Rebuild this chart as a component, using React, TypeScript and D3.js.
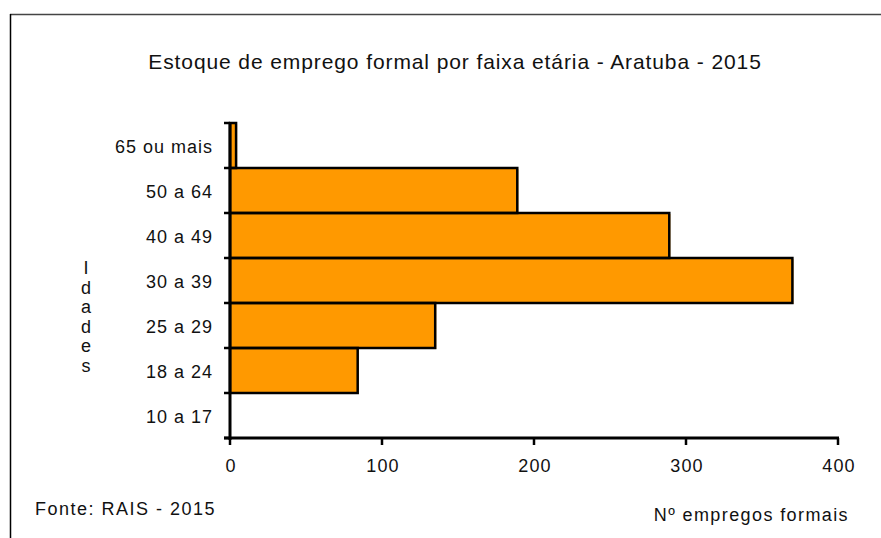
import React, { useEffect, useRef } from 'react';
import * as d3 from 'd3';

// faixa etária (top to bottom)
const ageGroups = ['65 ou mais', '50 a 64', '40 a 49', '30 a 39', '25 a 29', '18 a 24', '10 a 17'];
const employees = [4, 189, 289, 370, 135, 84, 0];
const xTicks = [0, 100, 200, 300, 400];
const yTitle = ['I', 'd', 'a', 'd', 'e', 's'];

const App = () => {
  const svgRef = useRef<SVGSVGElement>(null);

  useEffect(() => {
    const svg = d3.select(svgRef.current);
    svg.selectAll('*').remove();

    const width = 881;
    const height = 538;
    const margin = { top: 123, right: 43, bottom: 100, left: 230 };
    const font = 'Liberation Sans, Arial, sans-serif';

    // frame
    svg.append('line')
      .attr('x1', 10).attr('x2', width).attr('y1', 14.5).attr('y2', 14.5)
      .attr('stroke', '#444').attr('stroke-width', 1.5);
    svg.append('line')
      .attr('x1', 10.5).attr('x2', 10.5).attr('y1', 14).attr('y2', height)
      .attr('stroke', '#000').attr('stroke-width', 1.5);

    const x = d3.scaleLinear()
      .domain([0, 400])
      .range([margin.left, width - margin.right]);

    const y = d3.scaleBand()
      .domain(ageGroups)
      .range([margin.top, height - margin.bottom])
      .padding(0);

    const data = ageGroups.map((g, i) => ({ label: g, value: employees[i] }));

    // bars: orange fill slightly offset, black outline
    svg.append('g')
      .selectAll('rect')
      .data(data.filter(d => d.value > 0))
      .enter()
      .append('rect')
      .attr('x', x(0))
      .attr('y', d => (y(d.label) as number) + 1)
      .attr('width', d => x(d.value) - x(0) + 1)
      .attr('height', y.bandwidth())
      .attr('fill', '#FF9900');

    svg.append('g')
      .selectAll('rect')
      .data(data.filter(d => d.value > 0))
      .enter()
      .append('rect')
      .attr('x', x(0))
      .attr('y', d => y(d.label) as number)
      .attr('width', d => x(d.value) - x(0))
      .attr('height', y.bandwidth())
      .attr('fill', 'none')
      .attr('stroke', '#000')
      .attr('stroke-width', 2.5);

    // y axis
    const yAxis = svg.append('g');
    yAxis.append('line')
      .attr('x1', x(0)).attr('x2', x(0))
      .attr('y1', margin.top).attr('y2', height - margin.bottom + 2)
      .attr('stroke', '#000').attr('stroke-width', 3);
    const bounds = ageGroups.map(g => y(g) as number).concat([height - margin.bottom]);
    yAxis.selectAll('.ytick')
      .data(bounds)
      .enter()
      .append('line')
      .attr('x1', x(0) - 6).attr('x2', x(0))
      .attr('y1', d => d).attr('y2', d => d)
      .attr('stroke', '#000').attr('stroke-width', 2.5);
    yAxis.selectAll('text')
      .data(ageGroups)
      .enter()
      .append('text')
      .attr('x', 213)
      .attr('y', d => (y(d) as number) + y.bandwidth() / 2 + 7)
      .attr('text-anchor', 'end')
      .attr('font-family', font)
      .attr('font-size', 18)
      .attr('letter-spacing', 1)
      .attr('fill', '#111')
      .text(d => d);

    // x axis
    const xAxis = svg.append('g');
    const axisY = height - margin.bottom;
    xAxis.append('line')
      .attr('x1', x(0) - 6).attr('x2', x(400) + 1)
      .attr('y1', axisY).attr('y2', axisY)
      .attr('stroke', '#000').attr('stroke-width', 3);
    xAxis.selectAll('.xtick')
      .data(xTicks)
      .enter()
      .append('line')
      .attr('x1', d => x(d)).attr('x2', d => x(d))
      .attr('y1', axisY).attr('y2', axisY + 7)
      .attr('stroke', '#000').attr('stroke-width', 2.5);
    xAxis.selectAll('text')
      .data(xTicks)
      .enter()
      .append('text')
      .attr('x', d => x(d) + 1)
      .attr('y', axisY + 34)
      .attr('text-anchor', 'middle')
      .attr('font-family', font)
      .attr('font-size', 18)
      .attr('letter-spacing', 1.2)
      .attr('fill', '#111')
      .text(d => d);

    // title
    svg.append('text')
      .attr('x', 455).attr('y', 69)
      .attr('text-anchor', 'middle')
      .attr('font-family', font)
      .attr('font-size', 21)
      .attr('letter-spacing', 0.9)
      .attr('fill', '#111')
      .text('Estoque de emprego formal por faixa etária - Aratuba  - 2015');

    // vertical axis title
    svg.append('g')
      .selectAll('text')
      .data(yTitle)
      .enter()
      .append('text')
      .attr('x', 86)
      .attr('y', (_, i) => 274 + i * 19.6)
      .attr('text-anchor', 'middle')
      .attr('font-family', font)
      .attr('font-size', 18)
      .attr('fill', '#111')
      .text(d => d);

    svg.append('text')
      .attr('x', 35).attr('y', 515)
      .attr('font-family', font)
      .attr('font-size', 18)
      .attr('letter-spacing', 1.5)
      .attr('fill', '#111')
      .text('Fonte: RAIS - 2015');

    svg.append('text')
      .attr('x', 849).attr('y', 521)
      .attr('text-anchor', 'end')
      .attr('font-family', font)
      .attr('font-size', 18)
      .attr('letter-spacing', 1.4)
      .attr('fill', '#111')
      .text('Nº empregos formais');
  }, []);

  return (
    <svg
      ref={svgRef}
      width={881}
      height={538}
      style={{ position: 'absolute', left: 0, top: 0, background: '#fff' }}
    />
  );
};

export default App;
